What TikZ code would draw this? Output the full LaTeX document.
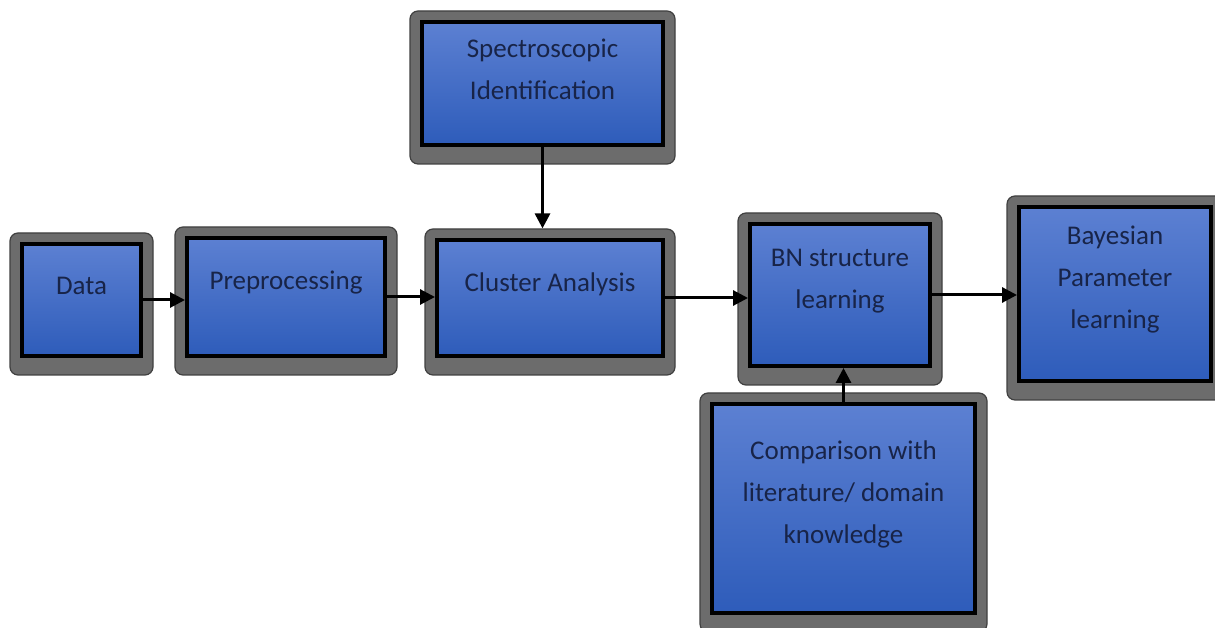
\documentclass[tikz,border=0pt]{standalone}
\usepackage{fontspec}
\setmainfont{Carlito}
\usetikzlibrary{arrows.meta}
\usetikzlibrary{fit}
\usetikzlibrary{backgrounds}
\definecolor{boxtop}{RGB}{92,128,210}
\definecolor{boxbot}{RGB}{46,92,186}
\definecolor{rimgray}{RGB}{108,108,108}
\definecolor{textblue}{RGB}{24,36,72}
\tikzset{boxtext/.style = {align = center, text = textblue,
                           font = \fontsize{27}{42}\selectfont, yshift = 14pt}}
\tikzset{box/.style = {draw = black, line width = 4pt, inner sep = 0,
                       top color = boxtop, bottom color = boxbot,
                       label = {[boxtext]center:#1}}}
\tikzset{rim/.style = {fill = rimgray, draw = black!75, line width = 1.2pt,
                       rounded corners = 8pt, inner xsep = 10pt, inner ysep = 13pt,
                       yshift = -4pt}}
\tikzset{flow/.style = {line width = 3pt, -{Triangle[length = 15pt, width = 15pt]}}}

\begin{document}
\begin{tikzpicture}[x = 1pt, y = 1pt]
    \useasboundingbox (0, 0) rectangle (1215, 628);
    \node [box = Data, minimum width = 119, minimum height = 112] (data) at (81.5, 328) {};
    \node [box = Preprocessing, minimum width = 198, minimum height = 118] (prep) at (286, 331) {};
    \node [box = Cluster Analysis, minimum width = 226, minimum height = 116] (clus) at (550, 330) {};
    \node [box = {Spectroscopic\\Identification}, minimum width = 241, minimum height = 123] (spec) at (542.5, 544.5) {};
    \node [box = {BN structure\\learning}, minimum width = 180, minimum height = 142] (bn) at (840, 333) {};
    \node [box = {Bayesian\\Parameter\\learning}, minimum width = 192, minimum height = 174] (bayes) at (1115, 334) {};
    \node [box = {Comparison with\\literature/ domain\\knowledge}, minimum width = 263, minimum height = 209] (comp) at (843.5, 119.5) {};
    \begin{scope}[on background layer]
      \foreach \n in {data, prep, clus, spec, bn, bayes, comp}
        \node [rim, fit = (\n)] (\n-rim) {};
    \end{scope}
    \draw [flow] (data.east) -- (data.east -| prep.west);
    \draw [flow] (prep.east) -- (prep.east -| clus.west);
    \draw [flow] (clus.east) -- (clus.east -| bn.west);
    \draw [flow] (bn.east) -- (bn.east -| bayes.west);
    \draw [flow] (spec.south) -- (spec.south |- clus-rim.north);
    \draw [flow] (comp.north) -- (comp.north |- bn.south);
  \end{tikzpicture}
\end{document}
